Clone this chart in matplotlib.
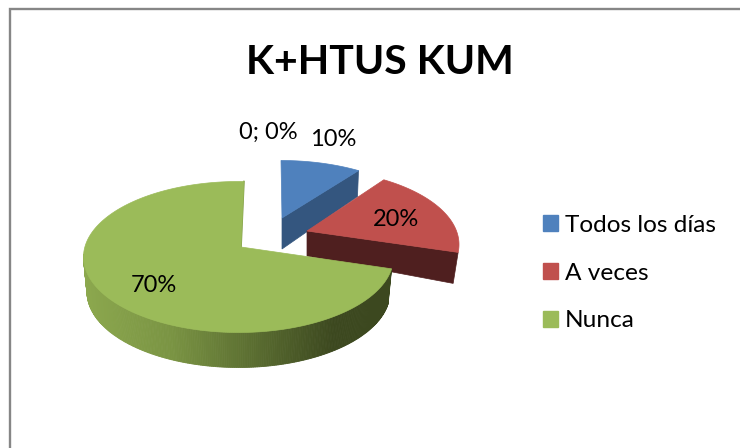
import numpy as np
import matplotlib
matplotlib.use("Agg")
import matplotlib.pyplot as plt
from matplotlib.patches import Polygon, Patch
from matplotlib.colors import to_rgb

# ---- data ----
title = "K+HTUS KUM"
categories = ["Todos los días", "A veces", "Nunca"]
values = [10, 20, 70]
extra_label = "0; 0%"

top_colors = ["#4F81BD", "#C0504D", "#9BBB59"]
face_colors = ["#34567F", "#4F1F1F", "#7F9A45"]

plt.rcParams['font.family'] = ['Lato', 'DejaVu Sans']
W, H = 740, 448
fig = plt.figure(figsize=(W / 100, H / 100), dpi=100)
ax = fig.add_axes([0, 0, 1, 1])
ax.set_xlim(0, W)
ax.set_ylim(H, 0)
ax.axis('off')

# chart frame
ax.plot([10, 10, W], [H, 9.5, 9.5], color="#868686", lw=1.7, solid_joinstyle='miter', zorder=1)

# slice geometry: ellipse centre, tip and angular tweak caused by the 3D projection
RX, RY, DEPTH = 155, 75.5, 35
centres = [(281, 236), (304, 244.5), (238.5, 257)]
tips = [(282, 218), (307, 231), (241, 247)]
tip_drop = [31, 25, 35]
end_drop = [26, 31, 35]
start_off = [0, -5, -9]
end_off = [-6, -12, 2]

cum = np.concatenate([[0], np.cumsum(values)]) / np.sum(values) * 360


def arc(c, a0, a1, rx=RX, ry=RY, n=160):
    t = np.radians(np.linspace(a0, a1, n))
    return np.column_stack([c[0] + rx * np.sin(t), c[1] - ry * np.cos(t)])


for i in range(len(values)):
    a0 = cum[i] + start_off[i]
    a1 = cum[i + 1] + end_off[i]
    c, tip = centres[i], tips[i]
    outer = arc(c, a0, a1)
    end_pt = outer[-1]

    if i == 2:
        # green slice: curved rim with a light-to-dark gradient
        c2 = (c[0], c[1] + DEPTH)
        dark = np.array(to_rgb("#3C481F"))
        mid = np.array(to_rgb("#7A9443"))
        light = np.array(to_rgb("#8CA84E"))
        vis = np.linspace(a0, 272, 240)
        up = arc(c, vis[0], vis[-1], n=240)
        lo = arc(c2, vis[0], vis[-1], rx=RX - 3.5, ry=RY, n=240)
        for k in range(len(vis) - 1):
            f = np.clip((up[k, 0] - 83) / (335 - 83), 0, 1)
            col = light + (mid - light) * (f / 0.35) if f < 0.35 else mid + (dark - mid) * ((f - 0.35) / 0.65)
            ax.add_patch(Polygon([up[k], up[k + 1], lo[k + 1], lo[k]], closed=True,
                                 fc=col, ec=col, lw=0.6, zorder=3 + i))
        ax.plot([tip[0], end_pt[0]], [tip[1], end_pt[1]],
                color=face_colors[i], lw=1.2, zorder=3 + i)
    else:
        # cut face of the exploded slices
        quad = [tip, end_pt, (end_pt[0] - 1 - 4 * i, end_pt[1] + end_drop[i]),
                (tip[0], tip[1] + tip_drop[i])]
        ax.add_patch(Polygon(quad, closed=True, fc=face_colors[i], ec=face_colors[i],
                             lw=0.5, zorder=3 + i))

    ax.add_patch(Polygon(np.vstack([[tip], outer]), closed=True, fc=top_colors[i],
                         ec=top_colors[i], lw=0.5, zorder=3.5 + i))

# data labels
lab_fs = 17
label_pos = [(333, 140), (396, 219), (154, 286)]
total = sum(values)
for v, p in zip(values, label_pos):
    ax.text(p[0], p[1], f"{round(v / total * 100)}%", fontsize=lab_fs, ha='center', va='center',
            color='black', zorder=10)
ax.text(268, 132, extra_label, fontsize=lab_fs, ha='center', va='center', color='black', zorder=10)

# title
ax.text(380, 63, title, fontsize=29.5, fontweight='bold', ha='center', va='center', color='black')

# legend
handles = [Patch(fc=c, ec=c) for c in top_colors]
ax.legend(handles, categories, loc='center left', bbox_to_anchor=(543 / W, 1 - 273 / H),
          bbox_transform=fig.transFigure, frameon=False, fontsize=17.6,
          handlelength=0.6, handleheight=0.6, handletextpad=0.3, labelspacing=1.1,
          borderpad=0, borderaxespad=0)

fig.savefig("out.png", dpi=100, facecolor='white')
